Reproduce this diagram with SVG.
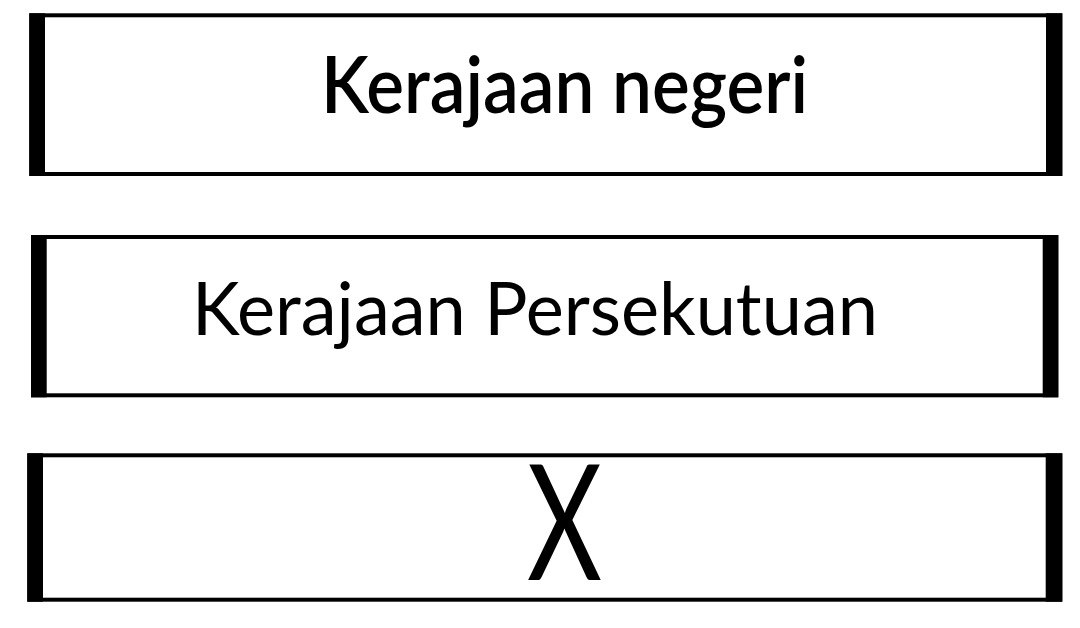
<svg xmlns="http://www.w3.org/2000/svg" width="1080" height="628" viewBox="0 0 1080 628">
<style>
.frame{fill:#fff;stroke:#000;stroke-width:4}
.bar{fill:#000}
.lbl{font-family:Lato,"Open Sans","Liberation Sans",sans-serif;fill:#000}
</style>
<rect x="0" y="0" width="1080" height="628" fill="#fff"/>
<g id="node-negeri">
<rect class="frame" x="31.3" y="15.3" width="1029" height="158.7"/>
<rect class="bar" x="29.3" y="13.3" width="15.7" height="162.7"/>
<rect class="bar" x="1046" y="13.3" width="16.3" height="162.7"/>
<text class="lbl" x="321" y="113.3" font-size="79" font-weight="600" textLength="487" lengthAdjust="spacingAndGlyphs">Kerajaan negeri</text>
</g>
<g id="node-persekutuan">
<rect class="frame" x="33" y="237" width="1023.3" height="158.3"/>
<rect class="bar" x="31" y="235" width="15.7" height="162.3"/>
<rect class="bar" x="1042.7" y="235" width="15.6" height="162.3"/>
<text class="lbl" x="192" y="335" font-size="74" textLength="686" lengthAdjust="spacingAndGlyphs">Kerajaan Persekutuan</text>
</g>
<g id="node-x">
<rect class="frame" x="29.3" y="455.3" width="1031" height="144.4"/>
<rect class="bar" x="27.3" y="453.3" width="15.7" height="148.4"/>
<rect class="bar" x="1045.7" y="453.3" width="16.6" height="148.4"/>
<text class="lbl" x="527" y="580" font-size="161" textLength="75" lengthAdjust="spacingAndGlyphs">X</text>
</g>
<g id="connectors"></g>
</svg>
